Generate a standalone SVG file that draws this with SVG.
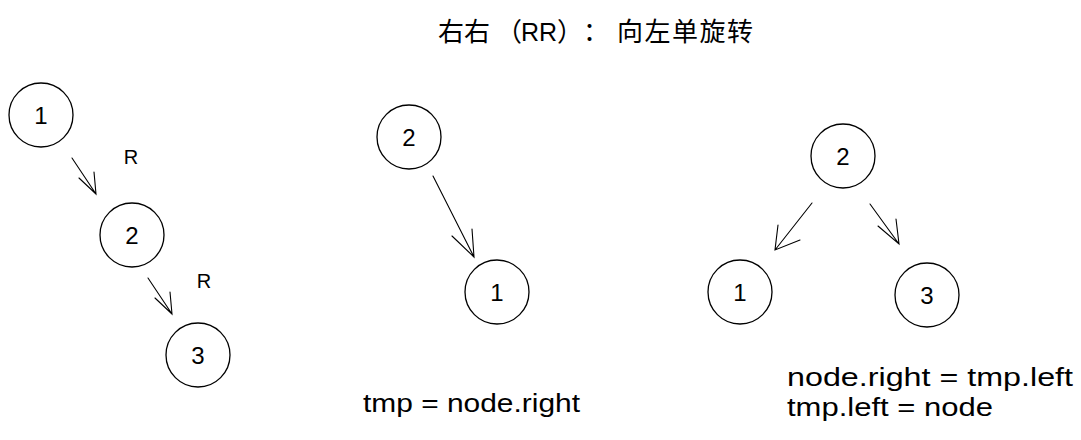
<svg xmlns="http://www.w3.org/2000/svg" width="1081" height="440" viewBox="0 0 1081 440">
<style>
.n{fill:#fff;stroke:#000;stroke-width:1.3}
.t{font-family:"Liberation Sans","Noto Sans",sans-serif;font-size:24px;fill:#000;text-anchor:middle;dominant-baseline:central}
.lbl{font-family:"Liberation Sans","Noto Sans",sans-serif;font-size:20px;fill:#000;text-anchor:middle;dominant-baseline:central}
.code{font-family:"Liberation Sans","Noto Sans",sans-serif;font-size:25px;fill:#000}
.title{font-family:"Noto Sans CJK SC","Noto Sans",sans-serif;font-size:26px;fill:#000}
.c path{fill:none;stroke:#000;stroke-width:1.1;stroke-linecap:round}
</style>
<rect width="1081" height="440" fill="#fff"/>
<text class="title" y="41"><tspan x="438">右右</tspan><tspan x="496">（</tspan><tspan x="521" font-family="Liberation Sans, sans-serif" font-size="25">RR</tspan><tspan x="557">）</tspan><tspan x="583">：</tspan><tspan x="617" textLength="136" lengthAdjust="spacing">向左单旋转</tspan></text>
<g class="c" id="connectors">
<path d="M72 158 L96 194 M79 178 L96 194 L94 172"/>
<path d="M148 278 L172 314 M155 298 L172 314 L170 292"/>
<path d="M433 176 L474 257 M452 236 L474 257 L472 229"/>
<path d="M812 203 L775 250 M778 225 L775 250 L800 240"/>
<path d="M870 204 L899 244 M878 226 L899 244 L896 219"/>
</g>
<g id="L1"><circle class="n" cx="41" cy="115" r="32"/><text class="t" x="41" y="115">1</text></g>
<g id="L2"><circle class="n" cx="132" cy="235" r="32"/><text class="t" x="132" y="235">2</text></g>
<g id="L3"><circle class="n" cx="198" cy="355" r="32"/><text class="t" x="198" y="355">3</text></g>
<text class="lbl" x="131" y="157">R</text>
<text class="lbl" x="204" y="281">R</text>
<g id="M2"><circle class="n" cx="409" cy="137" r="32"/><text class="t" x="409" y="137">2</text></g>
<g id="M1"><circle class="n" cx="497" cy="292" r="32"/><text class="t" x="497" y="292">1</text></g>
<text class="code" x="363" y="412" textLength="217" lengthAdjust="spacingAndGlyphs">tmp = node.right</text>
<g id="R2"><circle class="n" cx="843" cy="156" r="32"/><text class="t" x="843" y="156">2</text></g>
<g id="R1"><circle class="n" cx="740" cy="292" r="32"/><text class="t" x="740" y="292">1</text></g>
<g id="R3"><circle class="n" cx="927" cy="295" r="32"/><text class="t" x="927" y="295">3</text></g>
<text class="code" x="787" y="386" textLength="286" lengthAdjust="spacingAndGlyphs">node.right = tmp.left</text>
<text class="code" x="787" y="416" textLength="206" lengthAdjust="spacingAndGlyphs">tmp.left = node</text>
</svg>
